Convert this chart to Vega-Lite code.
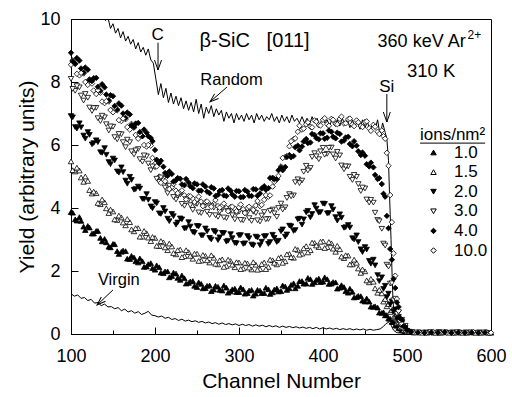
{
"$schema": "https://vega.github.io/schema/vega-lite/v6.json",
"width": 420, "height": 315,
"autosize": {"type": "none"},
"padding": {"left": 71, "top": 19, "right": 21, "bottom": 63},
"background": "white",
"config": {"font": "Liberation Sans", "view": {"stroke": "black", "strokeWidth": 1}},
"datasets": {
"pts": [
{"s":"1.0","c":100,"y":3.87},{"s":"1.0","c":105,"y":3.64},{"s":"1.0","c":110,"y":3.71},{"s":"1.0","c":115,"y":3.41},{"s":"1.0","c":120,"y":3.43},{"s":"1.0","c":125,"y":3.19},{"s":"1.0","c":130,"y":3.27},{"s":"1.0","c":135,"y":3.05},{"s":"1.0","c":140,"y":3.02},{"s":"1.0","c":145,"y":2.77},{"s":"1.0","c":150,"y":2.86},{"s":"1.0","c":155,"y":2.63},{"s":"1.0","c":160,"y":2.61},{"s":"1.0","c":165,"y":2.63},{"s":"1.0","c":170,"y":2.38},{"s":"1.0","c":175,"y":2.43},{"s":"1.0","c":180,"y":2.27},{"s":"1.0","c":185,"y":2.31},{"s":"1.0","c":190,"y":2.14},{"s":"1.0","c":195,"y":2.25},{"s":"1.0","c":200,"y":2.04},{"s":"1.0","c":205,"y":2.12},{"s":"1.0","c":210,"y":1.93},{"s":"1.0","c":215,"y":1.99},{"s":"1.0","c":220,"y":1.84},{"s":"1.0","c":225,"y":1.92},{"s":"1.0","c":230,"y":1.72},{"s":"1.0","c":235,"y":1.77},{"s":"1.0","c":240,"y":1.62},{"s":"1.0","c":245,"y":1.68},{"s":"1.0","c":250,"y":1.49},{"s":"1.0","c":255,"y":1.59},{"s":"1.0","c":260,"y":1.46},{"s":"1.0","c":265,"y":1.54},{"s":"1.0","c":270,"y":1.41},{"s":"1.0","c":275,"y":1.50},{"s":"1.0","c":280,"y":1.38},{"s":"1.0","c":285,"y":1.47},{"s":"1.0","c":290,"y":1.35},{"s":"1.0","c":295,"y":1.44},{"s":"1.0","c":300,"y":1.33},{"s":"1.0","c":305,"y":1.42},{"s":"1.0","c":310,"y":1.30},{"s":"1.0","c":315,"y":1.40},{"s":"1.0","c":320,"y":1.28},{"s":"1.0","c":325,"y":1.38},{"s":"1.0","c":330,"y":1.30},{"s":"1.0","c":335,"y":1.42},{"s":"1.0","c":340,"y":1.32},{"s":"1.0","c":345,"y":1.45},{"s":"1.0","c":350,"y":1.36},{"s":"1.0","c":355,"y":1.51},{"s":"1.0","c":360,"y":1.45},{"s":"1.0","c":365,"y":1.61},{"s":"1.0","c":370,"y":1.53},{"s":"1.0","c":375,"y":1.68},{"s":"1.0","c":380,"y":1.60},{"s":"1.0","c":385,"y":1.74},{"s":"1.0","c":390,"y":1.64},{"s":"1.0","c":395,"y":1.76},{"s":"1.0","c":400,"y":1.66},{"s":"1.0","c":405,"y":1.74},{"s":"1.0","c":410,"y":1.60},{"s":"1.0","c":415,"y":1.64},{"s":"1.0","c":420,"y":1.47},{"s":"1.0","c":425,"y":1.49},{"s":"1.0","c":430,"y":1.31},{"s":"1.0","c":435,"y":1.34},{"s":"1.0","c":440,"y":1.17},{"s":"1.0","c":445,"y":1.20},{"s":"1.0","c":450,"y":1.03},{"s":"1.0","c":455,"y":1.03},{"s":"1.0","c":460,"y":0.86},{"s":"1.0","c":465,"y":0.84},{"s":"1.0","c":470,"y":0.67},{"s":"1.0","c":472,"y":0.69},{"s":"1.0","c":474,"y":0.59},{"s":"1.0","c":476,"y":0.60},{"s":"1.0","c":478,"y":0.49},{"s":"1.0","c":480,"y":0.48},{"s":"1.0","c":482,"y":0.38},{"s":"1.0","c":484,"y":0.38},{"s":"1.0","c":486,"y":0.28},{"s":"1.0","c":488,"y":0.26},{"s":"1.0","c":490,"y":0.19},{"s":"1.0","c":492,"y":0.17},{"s":"1.0","c":494,"y":0.12},{"s":"1.0","c":496,"y":0.11},{"s":"1.0","c":498,"y":0.08},{"s":"1.0","c":500,"y":0.07},{"s":"1.0","c":508,"y":0.05},{"s":"1.0","c":516,"y":0.06},{"s":"1.0","c":524,"y":0.04},{"s":"1.0","c":532,"y":0.05},{"s":"1.0","c":540,"y":0.04},{"s":"1.0","c":548,"y":0.06},{"s":"1.0","c":556,"y":0.04},{"s":"1.0","c":564,"y":0.05},{"s":"1.0","c":572,"y":0.04},{"s":"1.0","c":580,"y":0.05},{"s":"1.0","c":588,"y":0.04},{"s":"1.0","c":596,"y":0.05},{"s":"1.0","c":600,"y":0.04},
{"s":"1.5","c":100,"y":5.48},{"s":"1.5","c":105,"y":5.16},{"s":"1.5","c":110,"y":5.19},{"s":"1.5","c":115,"y":4.83},{"s":"1.5","c":120,"y":4.86},{"s":"1.5","c":125,"y":4.46},{"s":"1.5","c":130,"y":4.47},{"s":"1.5","c":135,"y":4.12},{"s":"1.5","c":140,"y":4.18},{"s":"1.5","c":145,"y":3.84},{"s":"1.5","c":150,"y":3.89},{"s":"1.5","c":155,"y":3.62},{"s":"1.5","c":160,"y":3.70},{"s":"1.5","c":165,"y":3.45},{"s":"1.5","c":170,"y":3.55},{"s":"1.5","c":175,"y":3.26},{"s":"1.5","c":180,"y":3.36},{"s":"1.5","c":185,"y":3.09},{"s":"1.5","c":190,"y":3.20},{"s":"1.5","c":195,"y":2.95},{"s":"1.5","c":200,"y":3.05},{"s":"1.5","c":205,"y":2.79},{"s":"1.5","c":210,"y":2.91},{"s":"1.5","c":215,"y":2.66},{"s":"1.5","c":220,"y":2.78},{"s":"1.5","c":225,"y":2.53},{"s":"1.5","c":230,"y":2.68},{"s":"1.5","c":235,"y":2.47},{"s":"1.5","c":240,"y":2.60},{"s":"1.5","c":245,"y":2.39},{"s":"1.5","c":250,"y":2.55},{"s":"1.5","c":255,"y":2.33},{"s":"1.5","c":260,"y":2.48},{"s":"1.5","c":265,"y":2.27},{"s":"1.5","c":270,"y":2.42},{"s":"1.5","c":275,"y":2.21},{"s":"1.5","c":280,"y":2.37},{"s":"1.5","c":285,"y":2.16},{"s":"1.5","c":290,"y":2.32},{"s":"1.5","c":295,"y":2.12},{"s":"1.5","c":300,"y":2.27},{"s":"1.5","c":305,"y":2.08},{"s":"1.5","c":310,"y":2.24},{"s":"1.5","c":315,"y":2.05},{"s":"1.5","c":320,"y":2.20},{"s":"1.5","c":325,"y":2.06},{"s":"1.5","c":330,"y":2.27},{"s":"1.5","c":335,"y":2.13},{"s":"1.5","c":340,"y":2.34},{"s":"1.5","c":345,"y":2.21},{"s":"1.5","c":350,"y":2.44},{"s":"1.5","c":355,"y":2.31},{"s":"1.5","c":360,"y":2.54},{"s":"1.5","c":365,"y":2.42},{"s":"1.5","c":370,"y":2.67},{"s":"1.5","c":375,"y":2.55},{"s":"1.5","c":380,"y":2.79},{"s":"1.5","c":385,"y":2.66},{"s":"1.5","c":390,"y":2.89},{"s":"1.5","c":395,"y":2.76},{"s":"1.5","c":400,"y":2.94},{"s":"1.5","c":405,"y":2.76},{"s":"1.5","c":410,"y":2.88},{"s":"1.5","c":415,"y":2.61},{"s":"1.5","c":420,"y":2.69},{"s":"1.5","c":425,"y":2.41},{"s":"1.5","c":430,"y":2.49},{"s":"1.5","c":435,"y":2.21},{"s":"1.5","c":440,"y":2.26},{"s":"1.5","c":445,"y":1.94},{"s":"1.5","c":450,"y":1.99},{"s":"1.5","c":455,"y":1.64},{"s":"1.5","c":460,"y":1.66},{"s":"1.5","c":465,"y":1.31},{"s":"1.5","c":470,"y":1.29},{"s":"1.5","c":472,"y":1.03},{"s":"1.5","c":474,"y":1.11},{"s":"1.5","c":476,"y":0.88},{"s":"1.5","c":478,"y":0.95},{"s":"1.5","c":480,"y":0.70},{"s":"1.5","c":482,"y":0.76},{"s":"1.5","c":484,"y":0.53},{"s":"1.5","c":486,"y":0.56},{"s":"1.5","c":488,"y":0.35},{"s":"1.5","c":490,"y":0.38},{"s":"1.5","c":492,"y":0.22},{"s":"1.5","c":494,"y":0.23},{"s":"1.5","c":496,"y":0.13},{"s":"1.5","c":498,"y":0.12},{"s":"1.5","c":500,"y":0.08},{"s":"1.5","c":510,"y":0.05},{"s":"1.5","c":518,"y":0.04},{"s":"1.5","c":526,"y":0.06},{"s":"1.5","c":534,"y":0.04},{"s":"1.5","c":542,"y":0.05},{"s":"1.5","c":550,"y":0.04},{"s":"1.5","c":558,"y":0.05},{"s":"1.5","c":566,"y":0.04},{"s":"1.5","c":574,"y":0.06},{"s":"1.5","c":582,"y":0.04},{"s":"1.5","c":590,"y":0.05},{"s":"1.5","c":598,"y":0.04},
{"s":"2.0","c":100,"y":6.92},{"s":"2.0","c":105,"y":6.57},{"s":"2.0","c":110,"y":6.69},{"s":"2.0","c":115,"y":6.30},{"s":"2.0","c":120,"y":6.41},{"s":"2.0","c":125,"y":6.02},{"s":"2.0","c":130,"y":6.15},{"s":"2.0","c":135,"y":5.77},{"s":"2.0","c":140,"y":5.90},{"s":"2.0","c":145,"y":5.46},{"s":"2.0","c":150,"y":5.57},{"s":"2.0","c":155,"y":5.16},{"s":"2.0","c":160,"y":5.29},{"s":"2.0","c":165,"y":4.87},{"s":"2.0","c":170,"y":4.99},{"s":"2.0","c":175,"y":4.58},{"s":"2.0","c":180,"y":4.68},{"s":"2.0","c":185,"y":4.29},{"s":"2.0","c":190,"y":4.44},{"s":"2.0","c":195,"y":4.05},{"s":"2.0","c":200,"y":4.19},{"s":"2.0","c":205,"y":3.83},{"s":"2.0","c":210,"y":4.00},{"s":"2.0","c":215,"y":3.66},{"s":"2.0","c":220,"y":3.81},{"s":"2.0","c":225,"y":3.47},{"s":"2.0","c":230,"y":3.67},{"s":"2.0","c":235,"y":3.35},{"s":"2.0","c":240,"y":3.55},{"s":"2.0","c":245,"y":3.24},{"s":"2.0","c":250,"y":3.43},{"s":"2.0","c":255,"y":3.13},{"s":"2.0","c":260,"y":3.35},{"s":"2.0","c":265,"y":3.05},{"s":"2.0","c":270,"y":3.27},{"s":"2.0","c":275,"y":2.98},{"s":"2.0","c":280,"y":3.21},{"s":"2.0","c":285,"y":2.93},{"s":"2.0","c":290,"y":3.17},{"s":"2.0","c":295,"y":2.89},{"s":"2.0","c":300,"y":3.13},{"s":"2.0","c":305,"y":2.86},{"s":"2.0","c":310,"y":3.11},{"s":"2.0","c":315,"y":2.84},{"s":"2.0","c":320,"y":3.09},{"s":"2.0","c":325,"y":2.82},{"s":"2.0","c":330,"y":3.10},{"s":"2.0","c":335,"y":2.86},{"s":"2.0","c":340,"y":3.15},{"s":"2.0","c":345,"y":2.92},{"s":"2.0","c":350,"y":3.26},{"s":"2.0","c":355,"y":3.09},{"s":"2.0","c":360,"y":3.44},{"s":"2.0","c":365,"y":3.27},{"s":"2.0","c":370,"y":3.64},{"s":"2.0","c":375,"y":3.47},{"s":"2.0","c":380,"y":3.86},{"s":"2.0","c":385,"y":3.70},{"s":"2.0","c":390,"y":4.09},{"s":"2.0","c":395,"y":3.85},{"s":"2.0","c":400,"y":4.14},{"s":"2.0","c":405,"y":3.83},{"s":"2.0","c":410,"y":4.06},{"s":"2.0","c":415,"y":3.71},{"s":"2.0","c":420,"y":3.80},{"s":"2.0","c":425,"y":3.37},{"s":"2.0","c":430,"y":3.46},{"s":"2.0","c":435,"y":3.04},{"s":"2.0","c":440,"y":3.13},{"s":"2.0","c":445,"y":2.69},{"s":"2.0","c":450,"y":2.76},{"s":"2.0","c":455,"y":2.32},{"s":"2.0","c":460,"y":2.36},{"s":"2.0","c":465,"y":1.87},{"s":"2.0","c":470,"y":1.80},{"s":"2.0","c":472,"y":1.43},{"s":"2.0","c":474,"y":1.53},{"s":"2.0","c":476,"y":1.17},{"s":"2.0","c":478,"y":1.28},{"s":"2.0","c":480,"y":0.94},{"s":"2.0","c":482,"y":1.03},{"s":"2.0","c":484,"y":0.71},{"s":"2.0","c":486,"y":0.78},{"s":"2.0","c":488,"y":0.49},{"s":"2.0","c":490,"y":0.54},{"s":"2.0","c":492,"y":0.31},{"s":"2.0","c":494,"y":0.35},{"s":"2.0","c":496,"y":0.17},{"s":"2.0","c":498,"y":0.19},{"s":"2.0","c":500,"y":0.10},{"s":"2.0","c":506,"y":0.06},{"s":"2.0","c":514,"y":0.04},{"s":"2.0","c":522,"y":0.05},{"s":"2.0","c":530,"y":0.04},{"s":"2.0","c":538,"y":0.06},{"s":"2.0","c":546,"y":0.04},{"s":"2.0","c":554,"y":0.05},{"s":"2.0","c":562,"y":0.04},{"s":"2.0","c":570,"y":0.05},{"s":"2.0","c":578,"y":0.04},{"s":"2.0","c":586,"y":0.05},{"s":"2.0","c":594,"y":0.04},
{"s":"3.0","c":100,"y":8.10},{"s":"3.0","c":105,"y":7.72},{"s":"3.0","c":110,"y":7.83},{"s":"3.0","c":115,"y":7.41},{"s":"3.0","c":120,"y":7.50},{"s":"3.0","c":125,"y":7.08},{"s":"3.0","c":130,"y":7.18},{"s":"3.0","c":135,"y":6.76},{"s":"3.0","c":140,"y":6.88},{"s":"3.0","c":145,"y":6.46},{"s":"3.0","c":150,"y":6.58},{"s":"3.0","c":155,"y":6.18},{"s":"3.0","c":160,"y":6.34},{"s":"3.0","c":165,"y":5.93},{"s":"3.0","c":170,"y":6.09},{"s":"3.0","c":175,"y":5.70},{"s":"3.0","c":180,"y":5.87},{"s":"3.0","c":185,"y":5.47},{"s":"3.0","c":190,"y":5.64},{"s":"3.0","c":195,"y":5.20},{"s":"3.0","c":200,"y":5.29},{"s":"3.0","c":205,"y":4.83},{"s":"3.0","c":210,"y":4.92},{"s":"3.0","c":215,"y":4.47},{"s":"3.0","c":220,"y":4.63},{"s":"3.0","c":225,"y":4.27},{"s":"3.0","c":230,"y":4.43},{"s":"3.0","c":235,"y":4.07},{"s":"3.0","c":240,"y":4.26},{"s":"3.0","c":245,"y":3.94},{"s":"3.0","c":250,"y":4.13},{"s":"3.0","c":255,"y":3.84},{"s":"3.0","c":260,"y":4.07},{"s":"3.0","c":265,"y":3.78},{"s":"3.0","c":270,"y":4.01},{"s":"3.0","c":275,"y":3.72},{"s":"3.0","c":280,"y":3.96},{"s":"3.0","c":285,"y":3.68},{"s":"3.0","c":290,"y":3.92},{"s":"3.0","c":295,"y":3.64},{"s":"3.0","c":300,"y":3.88},{"s":"3.0","c":305,"y":3.61},{"s":"3.0","c":310,"y":3.86},{"s":"3.0","c":315,"y":3.59},{"s":"3.0","c":320,"y":3.84},{"s":"3.0","c":325,"y":3.57},{"s":"3.0","c":330,"y":3.87},{"s":"3.0","c":335,"y":3.65},{"s":"3.0","c":340,"y":3.95},{"s":"3.0","c":345,"y":3.72},{"s":"3.0","c":350,"y":4.14},{"s":"3.0","c":355,"y":4.02},{"s":"3.0","c":360,"y":4.44},{"s":"3.0","c":365,"y":4.40},{"s":"3.0","c":370,"y":4.91},{"s":"3.0","c":375,"y":4.87},{"s":"3.0","c":380,"y":5.34},{"s":"3.0","c":385,"y":5.27},{"s":"3.0","c":390,"y":5.74},{"s":"3.0","c":395,"y":5.55},{"s":"3.0","c":400,"y":5.91},{"s":"3.0","c":405,"y":5.72},{"s":"3.0","c":410,"y":5.92},{"s":"3.0","c":415,"y":5.57},{"s":"3.0","c":420,"y":5.67},{"s":"3.0","c":425,"y":5.23},{"s":"3.0","c":430,"y":5.32},{"s":"3.0","c":435,"y":4.89},{"s":"3.0","c":440,"y":4.99},{"s":"3.0","c":445,"y":4.54},{"s":"3.0","c":450,"y":4.62},{"s":"3.0","c":455,"y":4.17},{"s":"3.0","c":460,"y":4.17},{"s":"3.0","c":465,"y":3.62},{"s":"3.0","c":470,"y":3.34},{"s":"3.0","c":472,"y":2.87},{"s":"3.0","c":474,"y":2.81},{"s":"3.0","c":476,"y":2.20},{"s":"3.0","c":478,"y":2.14},{"s":"3.0","c":480,"y":1.60},{"s":"3.0","c":482,"y":1.61},{"s":"3.0","c":484,"y":1.07},{"s":"3.0","c":486,"y":1.12},{"s":"3.0","c":488,"y":0.64},{"s":"3.0","c":490,"y":0.69},{"s":"3.0","c":492,"y":0.30},{"s":"3.0","c":494,"y":0.45},{"s":"3.0","c":496,"y":0.16},{"s":"3.0","c":498,"y":0.26},{"s":"3.0","c":500,"y":0.10},{"s":"3.0","c":504,"y":0.06},{"s":"3.0","c":512,"y":0.05},{"s":"3.0","c":520,"y":0.04},{"s":"3.0","c":528,"y":0.06},{"s":"3.0","c":536,"y":0.04},{"s":"3.0","c":544,"y":0.05},{"s":"3.0","c":552,"y":0.04},{"s":"3.0","c":560,"y":0.06},{"s":"3.0","c":568,"y":0.04},{"s":"3.0","c":576,"y":0.05},{"s":"3.0","c":584,"y":0.04},{"s":"3.0","c":592,"y":0.05},
{"s":"10.0","c":100,"y":8.55},{"s":"10.0","c":105,"y":8.58},{"s":"10.0","c":110,"y":8.21},{"s":"10.0","c":115,"y":8.27},{"s":"10.0","c":120,"y":7.91},{"s":"10.0","c":125,"y":7.95},{"s":"10.0","c":130,"y":7.62},{"s":"10.0","c":135,"y":7.66},{"s":"10.0","c":140,"y":7.33},{"s":"10.0","c":145,"y":7.38},{"s":"10.0","c":150,"y":7.04},{"s":"10.0","c":155,"y":7.10},{"s":"10.0","c":160,"y":6.76},{"s":"10.0","c":165,"y":6.82},{"s":"10.0","c":170,"y":6.49},{"s":"10.0","c":175,"y":6.55},{"s":"10.0","c":180,"y":6.20},{"s":"10.0","c":185,"y":6.28},{"s":"10.0","c":190,"y":5.95},{"s":"10.0","c":195,"y":5.98},{"s":"10.0","c":200,"y":5.40},{"s":"10.0","c":205,"y":5.00},{"s":"10.0","c":210,"y":4.88},{"s":"10.0","c":215,"y":4.72},{"s":"10.0","c":220,"y":4.66},{"s":"10.0","c":225,"y":4.55},{"s":"10.0","c":230,"y":4.51},{"s":"10.0","c":235,"y":4.40},{"s":"10.0","c":240,"y":4.38},{"s":"10.0","c":245,"y":4.30},{"s":"10.0","c":250,"y":4.28},{"s":"10.0","c":255,"y":4.20},{"s":"10.0","c":260,"y":4.19},{"s":"10.0","c":265,"y":4.12},{"s":"10.0","c":270,"y":4.13},{"s":"10.0","c":275,"y":4.06},{"s":"10.0","c":280,"y":4.07},{"s":"10.0","c":285,"y":4.00},{"s":"10.0","c":290,"y":4.03},{"s":"10.0","c":295,"y":3.98},{"s":"10.0","c":300,"y":4.02},{"s":"10.0","c":305,"y":3.96},{"s":"10.0","c":310,"y":4.00},{"s":"10.0","c":315,"y":3.98},{"s":"10.0","c":320,"y":4.08},{"s":"10.0","c":325,"y":4.06},{"s":"10.0","c":330,"y":4.26},{"s":"10.0","c":335,"y":4.36},{"s":"10.0","c":340,"y":4.68},{"s":"10.0","c":345,"y":4.91},{"s":"10.0","c":350,"y":5.32},{"s":"10.0","c":355,"y":5.62},{"s":"10.0","c":360,"y":5.96},{"s":"10.0","c":365,"y":6.18},{"s":"10.0","c":370,"y":6.42},{"s":"10.0","c":375,"y":6.49},{"s":"10.0","c":380,"y":6.66},{"s":"10.0","c":385,"y":6.58},{"s":"10.0","c":390,"y":6.78},{"s":"10.0","c":395,"y":6.63},{"s":"10.0","c":400,"y":6.80},{"s":"10.0","c":405,"y":6.66},{"s":"10.0","c":410,"y":6.83},{"s":"10.0","c":415,"y":6.67},{"s":"10.0","c":420,"y":6.83},{"s":"10.0","c":425,"y":6.68},{"s":"10.0","c":430,"y":6.82},{"s":"10.0","c":435,"y":6.65},{"s":"10.0","c":440,"y":6.78},{"s":"10.0","c":445,"y":6.60},{"s":"10.0","c":450,"y":6.73},{"s":"10.0","c":455,"y":6.53},{"s":"10.0","c":460,"y":6.64},{"s":"10.0","c":465,"y":6.42},{"s":"10.0","c":470,"y":6.46},{"s":"10.0","c":472,"y":6.28},{"s":"10.0","c":474,"y":6.20},{"s":"10.0","c":476,"y":5.75},{"s":"10.0","c":478,"y":5.34},{"s":"10.0","c":480,"y":4.41},{"s":"10.0","c":482,"y":3.55},{"s":"10.0","c":484,"y":2.56},{"s":"10.0","c":486,"y":1.85},{"s":"10.0","c":488,"y":1.11},{"s":"10.0","c":490,"y":0.74},{"s":"10.0","c":492,"y":0.42},{"s":"10.0","c":494,"y":0.33},{"s":"10.0","c":496,"y":0.18},{"s":"10.0","c":498,"y":0.16},{"s":"10.0","c":500,"y":0.11},{"s":"10.0","c":507,"y":0.06},{"s":"10.0","c":515,"y":0.05},{"s":"10.0","c":523,"y":0.04},{"s":"10.0","c":531,"y":0.06},{"s":"10.0","c":539,"y":0.04},{"s":"10.0","c":547,"y":0.05},{"s":"10.0","c":555,"y":0.04},{"s":"10.0","c":563,"y":0.05},{"s":"10.0","c":571,"y":0.04},{"s":"10.0","c":579,"y":0.06},{"s":"10.0","c":587,"y":0.04},{"s":"10.0","c":595,"y":0.05},{"s":"10.0","c":600,"y":0.04},
{"s":"4.0","c":100,"y":8.93},{"s":"4.0","c":105,"y":8.58},{"s":"4.0","c":110,"y":8.68},{"s":"4.0","c":115,"y":8.30},{"s":"4.0","c":120,"y":8.39},{"s":"4.0","c":125,"y":8.03},{"s":"4.0","c":130,"y":8.13},{"s":"4.0","c":135,"y":7.72},{"s":"4.0","c":140,"y":7.83},{"s":"4.0","c":145,"y":7.42},{"s":"4.0","c":150,"y":7.55},{"s":"4.0","c":155,"y":7.13},{"s":"4.0","c":160,"y":7.25},{"s":"4.0","c":165,"y":6.86},{"s":"4.0","c":170,"y":6.97},{"s":"4.0","c":175,"y":6.57},{"s":"4.0","c":180,"y":6.70},{"s":"4.0","c":185,"y":6.28},{"s":"4.0","c":190,"y":6.39},{"s":"4.0","c":195,"y":6.22},{"s":"4.0","c":200,"y":5.84},{"s":"4.0","c":205,"y":5.42},{"s":"4.0","c":210,"y":5.31},{"s":"4.0","c":215,"y":5.02},{"s":"4.0","c":220,"y":5.08},{"s":"4.0","c":225,"y":4.88},{"s":"4.0","c":230,"y":4.93},{"s":"4.0","c":235,"y":4.72},{"s":"4.0","c":240,"y":4.81},{"s":"4.0","c":245,"y":4.63},{"s":"4.0","c":250,"y":4.75},{"s":"4.0","c":255,"y":4.55},{"s":"4.0","c":260,"y":4.68},{"s":"4.0","c":265,"y":4.47},{"s":"4.0","c":270,"y":4.62},{"s":"4.0","c":275,"y":4.42},{"s":"4.0","c":280,"y":4.57},{"s":"4.0","c":285,"y":4.38},{"s":"4.0","c":290,"y":4.55},{"s":"4.0","c":295,"y":4.36},{"s":"4.0","c":300,"y":4.53},{"s":"4.0","c":305,"y":4.35},{"s":"4.0","c":310,"y":4.52},{"s":"4.0","c":315,"y":4.38},{"s":"4.0","c":320,"y":4.59},{"s":"4.0","c":325,"y":4.46},{"s":"4.0","c":330,"y":4.69},{"s":"4.0","c":335,"y":4.63},{"s":"4.0","c":340,"y":4.96},{"s":"4.0","c":345,"y":4.92},{"s":"4.0","c":350,"y":5.29},{"s":"4.0","c":355,"y":5.30},{"s":"4.0","c":360,"y":5.68},{"s":"4.0","c":365,"y":5.65},{"s":"4.0","c":370,"y":5.98},{"s":"4.0","c":375,"y":5.95},{"s":"4.0","c":380,"y":6.19},{"s":"4.0","c":385,"y":6.08},{"s":"4.0","c":390,"y":6.32},{"s":"4.0","c":395,"y":6.18},{"s":"4.0","c":400,"y":6.37},{"s":"4.0","c":405,"y":6.23},{"s":"4.0","c":410,"y":6.42},{"s":"4.0","c":415,"y":6.21},{"s":"4.0","c":420,"y":6.35},{"s":"4.0","c":425,"y":6.14},{"s":"4.0","c":430,"y":6.26},{"s":"4.0","c":435,"y":5.96},{"s":"4.0","c":440,"y":5.98},{"s":"4.0","c":445,"y":5.68},{"s":"4.0","c":450,"y":5.66},{"s":"4.0","c":455,"y":5.32},{"s":"4.0","c":460,"y":5.29},{"s":"4.0","c":465,"y":4.92},{"s":"4.0","c":470,"y":4.76},{"s":"4.0","c":472,"y":4.45},{"s":"4.0","c":474,"y":4.36},{"s":"4.0","c":476,"y":3.75},{"s":"4.0","c":478,"y":3.36},{"s":"4.0","c":480,"y":2.70},{"s":"4.0","c":482,"y":2.36},{"s":"4.0","c":484,"y":1.75},{"s":"4.0","c":486,"y":1.46},{"s":"4.0","c":488,"y":1.00},{"s":"4.0","c":490,"y":0.86},{"s":"4.0","c":492,"y":0.50},{"s":"4.0","c":494,"y":0.45},{"s":"4.0","c":496,"y":0.25},{"s":"4.0","c":498,"y":0.22},{"s":"4.0","c":500,"y":0.13},{"s":"4.0","c":505,"y":0.07},{"s":"4.0","c":513,"y":0.05},{"s":"4.0","c":521,"y":0.04},{"s":"4.0","c":529,"y":0.05},{"s":"4.0","c":537,"y":0.04},{"s":"4.0","c":545,"y":0.06},{"s":"4.0","c":553,"y":0.04},{"s":"4.0","c":561,"y":0.05},{"s":"4.0","c":569,"y":0.04},{"s":"4.0","c":577,"y":0.05},{"s":"4.0","c":585,"y":0.04},{"s":"4.0","c":593,"y":0.05},
{"s":"1.0","c":102,"y":3.85},{"s":"1.0","c":107,"y":3.60},{"s":"1.0","c":112,"y":3.59},{"s":"1.0","c":117,"y":3.30},{"s":"1.0","c":122,"y":3.38},{"s":"1.0","c":127,"y":3.19},{"s":"1.0","c":132,"y":3.27},{"s":"1.0","c":137,"y":2.94},{"s":"1.0","c":142,"y":2.91},{"s":"1.0","c":147,"y":2.75},{"s":"1.0","c":152,"y":2.85},{"s":"1.0","c":157,"y":2.54},{"s":"1.0","c":162,"y":2.65},{"s":"1.0","c":167,"y":2.39},{"s":"1.0","c":172,"y":2.48},{"s":"1.0","c":177,"y":2.31},{"s":"1.0","c":182,"y":2.40},{"s":"1.0","c":187,"y":2.13},{"s":"1.0","c":192,"y":2.22},{"s":"1.0","c":197,"y":2.09},{"s":"1.0","c":202,"y":2.18},{"s":"1.0","c":207,"y":1.95},{"s":"1.0","c":212,"y":1.99},{"s":"1.0","c":217,"y":1.80},{"s":"1.0","c":222,"y":1.95},{"s":"1.0","c":227,"y":1.78},{"s":"1.0","c":232,"y":1.86},{"s":"1.0","c":237,"y":1.60},{"s":"1.0","c":242,"y":1.67},{"s":"1.0","c":247,"y":1.53},{"s":"1.0","c":252,"y":1.64},{"s":"1.0","c":257,"y":1.45},{"s":"1.0","c":262,"y":1.53},{"s":"1.0","c":267,"y":1.36},{"s":"1.0","c":272,"y":1.53},{"s":"1.0","c":277,"y":1.40},{"s":"1.0","c":282,"y":1.54},{"s":"1.0","c":287,"y":1.31},{"s":"1.0","c":292,"y":1.42},{"s":"1.0","c":297,"y":1.33},{"s":"1.0","c":302,"y":1.48},{"s":"1.0","c":307,"y":1.28},{"s":"1.0","c":312,"y":1.38},{"s":"1.0","c":317,"y":1.22},{"s":"1.0","c":322,"y":1.40},{"s":"1.0","c":327,"y":1.30},{"s":"1.0","c":332,"y":1.47},{"s":"1.0","c":337,"y":1.27},{"s":"1.0","c":342,"y":1.41},{"s":"1.0","c":347,"y":1.35},{"s":"1.0","c":352,"y":1.54},{"s":"1.0","c":357,"y":1.40},{"s":"1.0","c":362,"y":1.56},{"s":"1.0","c":367,"y":1.45},{"s":"1.0","c":372,"y":1.68},{"s":"1.0","c":377,"y":1.60},{"s":"1.0","c":382,"y":1.78},{"s":"1.0","c":387,"y":1.59},{"s":"1.0","c":392,"y":1.72},{"s":"1.0","c":397,"y":1.65},{"s":"1.0","c":402,"y":1.80},{"s":"1.0","c":407,"y":1.59},{"s":"1.0","c":412,"y":1.65},{"s":"1.0","c":417,"y":1.44},{"s":"1.0","c":422,"y":1.55},{"s":"1.0","c":427,"y":1.36},{"s":"1.0","c":432,"y":1.44},{"s":"1.0","c":437,"y":1.16},{"s":"1.0","c":442,"y":1.21},{"s":"1.0","c":447,"y":1.06},{"s":"1.0","c":452,"y":1.13},{"s":"1.0","c":457,"y":0.87},{"s":"1.0","c":462,"y":0.88},{"s":"1.0","c":467,"y":0.68},
{"s":"1.5","c":102,"y":5.20},{"s":"1.5","c":107,"y":5.28},{"s":"1.5","c":112,"y":4.97},{"s":"1.5","c":117,"y":5.00},{"s":"1.5","c":122,"y":4.57},{"s":"1.5","c":127,"y":4.52},{"s":"1.5","c":132,"y":4.16},{"s":"1.5","c":137,"y":4.27},{"s":"1.5","c":142,"y":3.99},{"s":"1.5","c":147,"y":3.95},{"s":"1.5","c":152,"y":3.64},{"s":"1.5","c":157,"y":3.76},{"s":"1.5","c":162,"y":3.54},{"s":"1.5","c":167,"y":3.65},{"s":"1.5","c":172,"y":3.32},{"s":"1.5","c":177,"y":3.36},{"s":"1.5","c":182,"y":3.09},{"s":"1.5","c":187,"y":3.27},{"s":"1.5","c":192,"y":3.06},{"s":"1.5","c":197,"y":3.08},{"s":"1.5","c":202,"y":2.80},{"s":"1.5","c":207,"y":2.95},{"s":"1.5","c":212,"y":2.75},{"s":"1.5","c":217,"y":2.87},{"s":"1.5","c":222,"y":2.57},{"s":"1.5","c":227,"y":2.66},{"s":"1.5","c":232,"y":2.44},{"s":"1.5","c":237,"y":2.66},{"s":"1.5","c":242,"y":2.48},{"s":"1.5","c":247,"y":2.55},{"s":"1.5","c":252,"y":2.32},{"s":"1.5","c":257,"y":2.51},{"s":"1.5","c":262,"y":2.34},{"s":"1.5","c":267,"y":2.50},{"s":"1.5","c":272,"y":2.23},{"s":"1.5","c":277,"y":2.34},{"s":"1.5","c":282,"y":2.13},{"s":"1.5","c":287,"y":2.36},{"s":"1.5","c":292,"y":2.20},{"s":"1.5","c":297,"y":2.28},{"s":"1.5","c":302,"y":2.06},{"s":"1.5","c":307,"y":2.26},{"s":"1.5","c":312,"y":2.11},{"s":"1.5","c":317,"y":2.28},{"s":"1.5","c":322,"y":2.04},{"s":"1.5","c":327,"y":2.22},{"s":"1.5","c":332,"y":2.06},{"s":"1.5","c":337,"y":2.36},{"s":"1.5","c":342,"y":2.26},{"s":"1.5","c":347,"y":2.41},{"s":"1.5","c":352,"y":2.26},{"s":"1.5","c":357,"y":2.53},{"s":"1.5","c":362,"y":2.44},{"s":"1.5","c":367,"y":2.70},{"s":"1.5","c":372,"y":2.52},{"s":"1.5","c":377,"y":2.72},{"s":"1.5","c":382,"y":2.59},{"s":"1.5","c":387,"y":2.90},{"s":"1.5","c":392,"y":2.81},{"s":"1.5","c":397,"y":2.93},{"s":"1.5","c":402,"y":2.73},{"s":"1.5","c":407,"y":2.92},{"s":"1.5","c":412,"y":2.71},{"s":"1.5","c":417,"y":2.80},{"s":"1.5","c":422,"y":2.46},{"s":"1.5","c":427,"y":2.50},{"s":"1.5","c":432,"y":2.21},{"s":"1.5","c":437,"y":2.36},{"s":"1.5","c":442,"y":2.08},{"s":"1.5","c":447,"y":2.05},{"s":"1.5","c":452,"y":1.70},{"s":"1.5","c":457,"y":1.75},{"s":"1.5","c":462,"y":1.45},{"s":"1.5","c":467,"y":1.40},
{"s":"2.0","c":102,"y":6.88},{"s":"2.0","c":107,"y":6.52},{"s":"2.0","c":112,"y":6.56},{"s":"2.0","c":117,"y":6.20},{"s":"2.0","c":122,"y":6.32},{"s":"2.0","c":127,"y":6.06},{"s":"2.0","c":132,"y":6.09},{"s":"2.0","c":137,"y":5.75},{"s":"2.0","c":142,"y":5.69},{"s":"2.0","c":147,"y":5.39},{"s":"2.0","c":152,"y":5.51},{"s":"2.0","c":157,"y":5.12},{"s":"2.0","c":162,"y":5.14},{"s":"2.0","c":167,"y":4.77},{"s":"2.0","c":172,"y":4.89},{"s":"2.0","c":177,"y":4.60},{"s":"2.0","c":182,"y":4.62},{"s":"2.0","c":187,"y":4.28},{"s":"2.0","c":192,"y":4.26},{"s":"2.0","c":197,"y":3.99},{"s":"2.0","c":202,"y":4.15},{"s":"2.0","c":207,"y":3.81},{"s":"2.0","c":212,"y":3.89},{"s":"2.0","c":217,"y":3.58},{"s":"2.0","c":222,"y":3.74},{"s":"2.0","c":227,"y":3.54},{"s":"2.0","c":232,"y":3.64},{"s":"2.0","c":237,"y":3.36},{"s":"2.0","c":242,"y":3.41},{"s":"2.0","c":247,"y":3.21},{"s":"2.0","c":252,"y":3.42},{"s":"2.0","c":257,"y":3.13},{"s":"2.0","c":262,"y":3.26},{"s":"2.0","c":267,"y":3.00},{"s":"2.0","c":272,"y":3.23},{"s":"2.0","c":277,"y":3.07},{"s":"2.0","c":282,"y":3.20},{"s":"2.0","c":287,"y":2.96},{"s":"2.0","c":292,"y":3.04},{"s":"2.0","c":297,"y":2.88},{"s":"2.0","c":302,"y":3.14},{"s":"2.0","c":307,"y":2.88},{"s":"2.0","c":312,"y":3.04},{"s":"2.0","c":317,"y":2.81},{"s":"2.0","c":322,"y":3.06},{"s":"2.0","c":327,"y":2.93},{"s":"2.0","c":332,"y":3.11},{"s":"2.0","c":337,"y":2.92},{"s":"2.0","c":342,"y":3.05},{"s":"2.0","c":347,"y":2.96},{"s":"2.0","c":352,"y":3.32},{"s":"2.0","c":357,"y":3.16},{"s":"2.0","c":362,"y":3.42},{"s":"2.0","c":367,"y":3.30},{"s":"2.0","c":372,"y":3.66},{"s":"2.0","c":377,"y":3.64},{"s":"2.0","c":382,"y":3.91},{"s":"2.0","c":387,"y":3.81},{"s":"2.0","c":392,"y":3.98},{"s":"2.0","c":397,"y":3.87},{"s":"2.0","c":402,"y":4.13},{"s":"2.0","c":407,"y":3.84},{"s":"2.0","c":412,"y":3.95},{"s":"2.0","c":417,"y":3.60},{"s":"2.0","c":422,"y":3.69},{"s":"2.0","c":427,"y":3.39},{"s":"2.0","c":432,"y":3.38},{"s":"2.0","c":437,"y":3.00},{"s":"2.0","c":442,"y":2.92},{"s":"2.0","c":447,"y":2.60},{"s":"2.0","c":452,"y":2.68},{"s":"2.0","c":457,"y":2.23},{"s":"2.0","c":462,"y":2.18},{"s":"2.0","c":467,"y":1.68},
{"s":"3.0","c":102,"y":7.78},{"s":"3.0","c":107,"y":7.87},{"s":"3.0","c":112,"y":7.57},{"s":"3.0","c":117,"y":7.62},{"s":"3.0","c":122,"y":7.19},{"s":"3.0","c":127,"y":7.17},{"s":"3.0","c":132,"y":6.85},{"s":"3.0","c":137,"y":6.93},{"s":"3.0","c":142,"y":6.66},{"s":"3.0","c":147,"y":6.59},{"s":"3.0","c":152,"y":6.25},{"s":"3.0","c":157,"y":6.35},{"s":"3.0","c":162,"y":6.09},{"s":"3.0","c":167,"y":6.17},{"s":"3.0","c":172,"y":5.80},{"s":"3.0","c":177,"y":5.83},{"s":"3.0","c":182,"y":5.55},{"s":"3.0","c":187,"y":5.67},{"s":"3.0","c":192,"y":5.41},{"s":"3.0","c":197,"y":5.32},{"s":"3.0","c":202,"y":4.93},{"s":"3.0","c":207,"y":4.97},{"s":"3.0","c":212,"y":4.65},{"s":"3.0","c":217,"y":4.71},{"s":"3.0","c":222,"y":4.35},{"s":"3.0","c":227,"y":4.39},{"s":"3.0","c":232,"y":4.13},{"s":"3.0","c":237,"y":4.28},{"s":"3.0","c":242,"y":4.09},{"s":"3.0","c":247,"y":4.11},{"s":"3.0","c":252,"y":3.86},{"s":"3.0","c":257,"y":4.05},{"s":"3.0","c":262,"y":3.88},{"s":"3.0","c":267,"y":4.06},{"s":"3.0","c":272,"y":3.77},{"s":"3.0","c":277,"y":3.88},{"s":"3.0","c":282,"y":3.70},{"s":"3.0","c":287,"y":3.91},{"s":"3.0","c":292,"y":3.77},{"s":"3.0","c":297,"y":3.83},{"s":"3.0","c":302,"y":3.62},{"s":"3.0","c":307,"y":3.83},{"s":"3.0","c":312,"y":3.68},{"s":"3.0","c":317,"y":3.88},{"s":"3.0","c":322,"y":3.61},{"s":"3.0","c":327,"y":3.76},{"s":"3.0","c":332,"y":3.64},{"s":"3.0","c":337,"y":3.91},{"s":"3.0","c":342,"y":3.83},{"s":"3.0","c":347,"y":4.00},{"s":"3.0","c":352,"y":3.95},{"s":"3.0","c":357,"y":4.32},{"s":"3.0","c":362,"y":4.37},{"s":"3.0","c":367,"y":4.82},{"s":"3.0","c":372,"y":4.79},{"s":"3.0","c":377,"y":5.15},{"s":"3.0","c":382,"y":5.19},{"s":"3.0","c":387,"y":5.62},{"s":"3.0","c":392,"y":5.64},{"s":"3.0","c":397,"y":5.80},{"s":"3.0","c":402,"y":5.69},{"s":"3.0","c":407,"y":5.91},{"s":"3.0","c":412,"y":5.70},{"s":"3.0","c":417,"y":5.78},{"s":"3.0","c":422,"y":5.35},{"s":"3.0","c":427,"y":5.32},{"s":"3.0","c":432,"y":4.99},{"s":"3.0","c":437,"y":5.05},{"s":"3.0","c":442,"y":4.76},{"s":"3.0","c":447,"y":4.65},{"s":"3.0","c":452,"y":4.27},{"s":"3.0","c":457,"y":4.26},{"s":"3.0","c":462,"y":3.85},{"s":"3.0","c":467,"y":3.58},
{"s":"10.0","c":102,"y":8.69},{"s":"10.0","c":107,"y":8.26},{"s":"10.0","c":112,"y":8.29},{"s":"10.0","c":117,"y":8.00},{"s":"10.0","c":122,"y":8.08},{"s":"10.0","c":127,"y":7.73},{"s":"10.0","c":132,"y":7.74},{"s":"10.0","c":137,"y":7.38},{"s":"10.0","c":142,"y":7.39},{"s":"10.0","c":147,"y":7.11},{"s":"10.0","c":152,"y":7.19},{"s":"10.0","c":157,"y":6.79},{"s":"10.0","c":162,"y":6.84},{"s":"10.0","c":167,"y":6.57},{"s":"10.0","c":172,"y":6.67},{"s":"10.0","c":177,"y":6.32},{"s":"10.0","c":182,"y":6.34},{"s":"10.0","c":187,"y":6.00},{"s":"10.0","c":192,"y":6.00},{"s":"10.0","c":197,"y":5.59},{"s":"10.0","c":202,"y":5.32},{"s":"10.0","c":207,"y":4.80},{"s":"10.0","c":212,"y":4.85},{"s":"10.0","c":217,"y":4.60},{"s":"10.0","c":222,"y":4.76},{"s":"10.0","c":227,"y":4.47},{"s":"10.0","c":232,"y":4.56},{"s":"10.0","c":237,"y":4.27},{"s":"10.0","c":242,"y":4.37},{"s":"10.0","c":247,"y":4.19},{"s":"10.0","c":252,"y":4.36},{"s":"10.0","c":257,"y":4.06},{"s":"10.0","c":262,"y":4.21},{"s":"10.0","c":267,"y":4.04},{"s":"10.0","c":272,"y":4.25},{"s":"10.0","c":277,"y":4.01},{"s":"10.0","c":282,"y":4.14},{"s":"10.0","c":287,"y":3.90},{"s":"10.0","c":292,"y":4.04},{"s":"10.0","c":297,"y":3.90},{"s":"10.0","c":302,"y":4.11},{"s":"10.0","c":307,"y":3.84},{"s":"10.0","c":312,"y":4.04},{"s":"10.0","c":317,"y":3.94},{"s":"10.0","c":322,"y":4.22},{"s":"10.0","c":327,"y":4.10},{"s":"10.0","c":332,"y":4.41},{"s":"10.0","c":337,"y":4.40},{"s":"10.0","c":342,"y":4.83},{"s":"10.0","c":347,"y":5.02},{"s":"10.0","c":352,"y":5.59},{"s":"10.0","c":357,"y":5.65},{"s":"10.0","c":362,"y":6.12},{"s":"10.0","c":367,"y":6.21},{"s":"10.0","c":372,"y":6.61},{"s":"10.0","c":377,"y":6.52},{"s":"10.0","c":382,"y":6.72},{"s":"10.0","c":387,"y":6.56},{"s":"10.0","c":392,"y":6.74},{"s":"10.0","c":397,"y":6.62},{"s":"10.0","c":402,"y":6.85},{"s":"10.0","c":407,"y":6.61},{"s":"10.0","c":412,"y":6.80},{"s":"10.0","c":417,"y":6.66},{"s":"10.0","c":422,"y":6.90},{"s":"10.0","c":427,"y":6.69},{"s":"10.0","c":432,"y":6.84},{"s":"10.0","c":437,"y":6.60},{"s":"10.0","c":442,"y":6.72},{"s":"10.0","c":447,"y":6.57},{"s":"10.0","c":452,"y":6.75},{"s":"10.0","c":457,"y":6.45},{"s":"10.0","c":462,"y":6.58},{"s":"10.0","c":467,"y":6.35},
{"s":"4.0","c":102,"y":8.66},{"s":"4.0","c":107,"y":8.76},{"s":"4.0","c":112,"y":8.43},{"s":"4.0","c":117,"y":8.46},{"s":"4.0","c":122,"y":8.07},{"s":"4.0","c":127,"y":8.12},{"s":"4.0","c":132,"y":7.85},{"s":"4.0","c":137,"y":7.93},{"s":"4.0","c":142,"y":7.60},{"s":"4.0","c":147,"y":7.58},{"s":"4.0","c":152,"y":7.24},{"s":"4.0","c":157,"y":7.32},{"s":"4.0","c":162,"y":7.00},{"s":"4.0","c":167,"y":7.03},{"s":"4.0","c":172,"y":6.63},{"s":"4.0","c":177,"y":6.68},{"s":"4.0","c":182,"y":6.41},{"s":"4.0","c":187,"y":6.49},{"s":"4.0","c":192,"y":6.28},{"s":"4.0","c":197,"y":6.12},{"s":"4.0","c":202,"y":5.53},{"s":"4.0","c":207,"y":5.50},{"s":"4.0","c":212,"y":5.11},{"s":"4.0","c":217,"y":5.16},{"s":"4.0","c":222,"y":4.84},{"s":"4.0","c":227,"y":4.95},{"s":"4.0","c":232,"y":4.75},{"s":"4.0","c":237,"y":4.92},{"s":"4.0","c":242,"y":4.69},{"s":"4.0","c":247,"y":4.78},{"s":"4.0","c":252,"y":4.55},{"s":"4.0","c":257,"y":4.75},{"s":"4.0","c":262,"y":4.52},{"s":"4.0","c":267,"y":4.66},{"s":"4.0","c":272,"y":4.38},{"s":"4.0","c":277,"y":4.54},{"s":"4.0","c":282,"y":4.40},{"s":"4.0","c":287,"y":4.62},{"s":"4.0","c":292,"y":4.43},{"s":"4.0","c":297,"y":4.54},{"s":"4.0","c":302,"y":4.34},{"s":"4.0","c":307,"y":4.57},{"s":"4.0","c":312,"y":4.39},{"s":"4.0","c":317,"y":4.60},{"s":"4.0","c":322,"y":4.39},{"s":"4.0","c":327,"y":4.62},{"s":"4.0","c":332,"y":4.58},{"s":"4.0","c":337,"y":4.95},{"s":"4.0","c":342,"y":4.91},{"s":"4.0","c":347,"y":5.20},{"s":"4.0","c":352,"y":5.20},{"s":"4.0","c":357,"y":5.62},{"s":"4.0","c":362,"y":5.61},{"s":"4.0","c":367,"y":5.93},{"s":"4.0","c":372,"y":5.83},{"s":"4.0","c":377,"y":6.11},{"s":"4.0","c":382,"y":6.06},{"s":"4.0","c":387,"y":6.35},{"s":"4.0","c":392,"y":6.22},{"s":"4.0","c":397,"y":6.37},{"s":"4.0","c":402,"y":6.20},{"s":"4.0","c":407,"y":6.46},{"s":"4.0","c":412,"y":6.26},{"s":"4.0","c":417,"y":6.39},{"s":"4.0","c":422,"y":6.11},{"s":"4.0","c":427,"y":6.24},{"s":"4.0","c":432,"y":6.03},{"s":"4.0","c":437,"y":6.12},{"s":"4.0","c":442,"y":5.80},{"s":"4.0","c":447,"y":5.76},{"s":"4.0","c":452,"y":5.39},{"s":"4.0","c":457,"y":5.44},{"s":"4.0","c":462,"y":5.05},{"s":"4.0","c":467,"y":4.95}
],
"rnd": [
{"c":132,"y":10.5},{"c":135,"y":10.1},{"c":138,"y":10.3},{"c":141,"y":9.95},{"c":144,"y":10.05},{"c":147,"y":9.7},{"c":150,"y":9.85},{"c":153,"y":9.55},{"c":156,"y":9.7},{"c":159,"y":9.4},{"c":162,"y":9.6},{"c":165,"y":9.3},{"c":168,"y":9.45},{"c":171,"y":9.2},{"c":174,"y":9.35},{"c":177,"y":9.05},{"c":180,"y":9.25},{"c":183,"y":8.95},{"c":186,"y":9.1},{"c":189,"y":8.85},{"c":192,"y":9.05},{"c":195,"y":8.7},{"c":198,"y":8.6},{"c":201,"y":8.1},{"c":204,"y":7.6},{"c":207,"y":7.95},{"c":210,"y":7.5},{"c":213,"y":7.8},{"c":216,"y":7.35},{"c":219,"y":7.65},{"c":222,"y":7.3},{"c":225,"y":7.55},{"c":228,"y":7.25},{"c":231,"y":7.5},{"c":234,"y":7.15},{"c":237,"y":7.4},{"c":240,"y":7.1},{"c":243,"y":7.35},{"c":246,"y":7.05},{"c":249,"y":7.45},{"c":252,"y":7.0},{"c":255,"y":7.3},{"c":258,"y":6.85},{"c":261,"y":7.2},{"c":264,"y":7.0},{"c":267,"y":7.25},{"c":270,"y":6.9},{"c":273,"y":7.15},{"c":276,"y":6.95},{"c":279,"y":7.1},{"c":282,"y":6.75},{"c":285,"y":7.05},{"c":288,"y":6.85},{"c":291,"y":7.0},{"c":294,"y":6.7},{"c":297,"y":7.0},{"c":300,"y":6.8},{"c":303,"y":6.95},{"c":306,"y":6.75},{"c":309,"y":7.0},{"c":312,"y":6.8},{"c":315,"y":6.95},{"c":318,"y":6.7},{"c":321,"y":7.0},{"c":324,"y":6.8},{"c":327,"y":6.95},{"c":330,"y":6.75},{"c":333,"y":6.9},{"c":336,"y":6.8},{"c":339,"y":7.0},{"c":342,"y":6.75},{"c":345,"y":6.9},{"c":348,"y":6.7},{"c":351,"y":6.95},{"c":354,"y":6.75},{"c":357,"y":6.9},{"c":360,"y":6.7},{"c":363,"y":6.95},{"c":366,"y":6.75},{"c":369,"y":6.85},{"c":372,"y":6.7},{"c":375,"y":6.9},{"c":378,"y":6.7},{"c":381,"y":6.85},{"c":384,"y":6.65},{"c":387,"y":6.9},{"c":390,"y":6.7},{"c":393,"y":6.85},{"c":396,"y":6.6},{"c":399,"y":6.85},{"c":402,"y":6.7},{"c":405,"y":6.8},{"c":408,"y":6.6},{"c":411,"y":6.85},{"c":414,"y":6.65},{"c":417,"y":6.8},{"c":420,"y":6.6},{"c":423,"y":6.85},{"c":426,"y":6.65},{"c":429,"y":6.8},{"c":432,"y":6.55},{"c":435,"y":6.8},{"c":438,"y":6.6},{"c":441,"y":6.75},{"c":444,"y":6.5},{"c":447,"y":6.8},{"c":450,"y":6.55},{"c":453,"y":6.75},{"c":456,"y":6.4},{"c":459,"y":6.7},{"c":462,"y":6.5},{"c":465,"y":6.8},{"c":468,"y":6.3},{"c":471,"y":6.7},{"c":474,"y":6.4},{"c":476,"y":6.2},{"c":478,"y":5.5},{"c":479,"y":4.6},{"c":480,"y":3.8},{"c":481,"y":3.0},{"c":482,"y":2.1},{"c":483,"y":1.3},{"c":484,"y":0.8},{"c":486,"y":0.4},{"c":488,"y":0.2},{"c":491,"y":0.1},{"c":495,"y":0.06},{"c":500,"y":0.05}
],
"vir": [
{"c":100,"y":1.28},{"c":104,"y":1.20},{"c":108,"y":1.24},{"c":112,"y":1.13},{"c":116,"y":1.16},{"c":120,"y":1.06},{"c":124,"y":1.10},{"c":128,"y":0.98},{"c":132,"y":1.00},{"c":136,"y":0.90},{"c":140,"y":0.95},{"c":144,"y":0.86},{"c":148,"y":0.87},{"c":152,"y":0.80},{"c":156,"y":0.84},{"c":160,"y":0.74},{"c":164,"y":0.79},{"c":168,"y":0.70},{"c":172,"y":0.74},{"c":176,"y":0.66},{"c":180,"y":0.71},{"c":184,"y":0.62},{"c":188,"y":0.66},{"c":192,"y":0.72},{"c":196,"y":0.60},{"c":200,"y":0.58},{"c":204,"y":0.54},{"c":208,"y":0.57},{"c":212,"y":0.50},{"c":216,"y":0.53},{"c":220,"y":0.46},{"c":224,"y":0.49},{"c":228,"y":0.43},{"c":232,"y":0.47},{"c":236,"y":0.41},{"c":240,"y":0.44},{"c":244,"y":0.39},{"c":248,"y":0.42},{"c":252,"y":0.37},{"c":256,"y":0.40},{"c":260,"y":0.35},{"c":264,"y":0.38},{"c":268,"y":0.33},{"c":272,"y":0.36},{"c":276,"y":0.31},{"c":280,"y":0.35},{"c":284,"y":0.30},{"c":288,"y":0.33},{"c":292,"y":0.29},{"c":296,"y":0.32},{"c":300,"y":0.27},{"c":304,"y":0.31},{"c":308,"y":0.27},{"c":312,"y":0.30},{"c":316,"y":0.25},{"c":320,"y":0.29},{"c":324,"y":0.25},{"c":328,"y":0.28},{"c":332,"y":0.23},{"c":336,"y":0.27},{"c":340,"y":0.23},{"c":344,"y":0.26},{"c":348,"y":0.21},{"c":352,"y":0.25},{"c":356,"y":0.21},{"c":360,"y":0.24},{"c":364,"y":0.20},{"c":368,"y":0.23},{"c":372,"y":0.19},{"c":376,"y":0.22},{"c":380,"y":0.18},{"c":384,"y":0.21},{"c":388,"y":0.17},{"c":392,"y":0.21},{"c":396,"y":0.16},{"c":400,"y":0.20},{"c":404,"y":0.16},{"c":408,"y":0.19},{"c":412,"y":0.15},{"c":416,"y":0.18},{"c":420,"y":0.14},{"c":424,"y":0.17},{"c":428,"y":0.14},{"c":432,"y":0.17},{"c":436,"y":0.13},{"c":440,"y":0.16},{"c":444,"y":0.13},{"c":448,"y":0.16},{"c":452,"y":0.12},{"c":456,"y":0.15},{"c":460,"y":0.12},{"c":464,"y":0.14},{"c":468,"y":0.16},{"c":472,"y":0.24},{"c":475,"y":0.33},{"c":478,"y":0.37},{"c":481,"y":0.28},{"c":484,"y":0.12},{"c":488,"y":0.04},{"c":495,"y":0.03},{"c":520,"y":0.03},{"c":560,"y":0.02},{"c":600,"y":0.02}
],
"one": [{}]
},
"layer": [
{
"data": {"name": "vir"},
"mark": {"type": "line", "color": "black", "strokeWidth": 1},
"encoding": {
"x": {"field": "c", "type": "quantitative", "scale": {"domain": [100, 600], "nice": false, "zero": false},
 "axis": {"values": [100,150,200,250,300,350,400,450,500,550,600], "labelExpr": "datum.value % 100 === 0 ? datum.label : ''",
  "tickSize": {"condition": {"test": "datum.value % 100 === 0", "value": -7}, "value": -4},
  "tickColor": "black", "domainColor": "black", "grid": false, "labelFontSize": 18, "labelColor": "black", "labelFlush": false, "labelOverlap": false, "labelPadding": 20,
  "title": "Channel Number", "titleFontSize": 21, "titleFontWeight": "normal", "titleColor": "black", "titlePadding": 2}},
"y": {"field": "y", "type": "quantitative", "scale": {"domain": [0, 10], "nice": false},
 "axis": {"values": [0,1,2,3,4,5,6,7,8,9,10], "labelExpr": "datum.value % 2 === 0 ? datum.label : ''",
  "tickSize": {"condition": {"test": "datum.value % 2 === 0", "value": -7}, "value": -4},
  "tickColor": "black", "domainColor": "black", "grid": false, "labelFontSize": 18, "labelColor": "black", "labelFlush": false, "labelOverlap": false, "labelPadding": 18,
  "title": "Yield (arbitrary units)", "titleFontSize": 21, "titleFontWeight": "normal", "titleColor": "black", "titlePadding": 2}},
"order": {"field": "c"}
}
},
{
"data": {"name": "rnd"},
"mark": {"type": "line", "color": "black", "strokeWidth": 1, "clip": true},
"encoding": {
"x": {"field": "c", "type": "quantitative"},
"y": {"field": "y", "type": "quantitative"},
"order": {"field": "c"}
}
},
{
"data": {"name": "pts"},
"mark": {"type": "point", "filled": true, "strokeWidth": 0.8, "size": 30, "opacity": 1},
"encoding": {
"x": {"field": "c", "type": "quantitative"},
"y": {"field": "y", "type": "quantitative"},
"shape": {"field": "s", "type": "nominal", "sort": null, "title": "ions/nm²",
 "scale": {"domain": ["1.0","1.5","2.0","3.0","4.0","10.0"], "range": ["triangle-up","triangle-up","triangle-down","triangle-down","diamond","diamond"]},
 "legend": {"title": "ions/nm²", "orient": "none", "legendX": 349, "legendY": 108, "titleFontSize": 17, "titleFontWeight": "normal", "titleColor": "black", "labelFontSize": 17, "labelColor": "black", "symbolSize": 30, "symbolStrokeWidth": 1, "rowPadding": 1.6, "labelOffset": 12, "symbolOffset": 5, "titlePadding": 0, "padding": 0}},
"fill": {"field": "s", "type": "nominal", "sort": null, "title": "ions/nm²",
 "scale": {"domain": ["1.0","1.5","2.0","3.0","4.0","10.0"], "range": ["black","white","black","white","black","white"]}},
"stroke": {"field": "s", "type": "nominal", "sort": null, "title": "ions/nm²",
 "scale": {"domain": ["1.0","1.5","2.0","3.0","4.0","10.0"], "range": ["black","black","black","black","black","black"]}}
}
},
{"data": {"name": "one"}, "mark": {"type": "rule", "color": "black", "strokeWidth": 1}, "encoding": {"x": {"datum": 515.5}, "x2": {"datum": 593}, "y": {"datum": 6.06}}},
{"data": {"name": "one"}, "mark": {"type": "text", "fontSize": 20, "align": "left", "baseline": "alphabetic", "color": "black"}, "encoding": {"x": {"datum": 253}, "y": {"datum": 9.1}, "text": {"value": "β-SiC\u00a0\u00a0\u00a0[011]"}}},
{"data": {"name": "one"}, "mark": {"type": "text", "fontSize": 18, "align": "left", "baseline": "alphabetic", "color": "black"}, "encoding": {"x": {"datum": 465}, "y": {"datum": 9.1}, "text": {"value": "360 keV Ar"}}},
{"data": {"name": "one"}, "mark": {"type": "text", "fontSize": 12, "align": "left", "baseline": "alphabetic", "color": "black"}, "encoding": {"x": {"datum": 572}, "y": {"datum": 9.35}, "text": {"value": "2+"}}},
{"data": {"name": "one"}, "mark": {"type": "text", "fontSize": 18.5, "align": "left", "baseline": "alphabetic", "color": "black"}, "encoding": {"x": {"datum": 500}, "y": {"datum": 8.15}, "text": {"value": "310 K"}}},
{"data": {"name": "one"}, "mark": {"type": "text", "fontSize": 17, "align": "center", "baseline": "alphabetic", "color": "black"}, "encoding": {"x": {"datum": 203}, "y": {"datum": 9.33}, "text": {"value": "C"}}},
{"data": {"name": "one"}, "mark": {"type": "text", "fontSize": 16.5, "align": "left", "baseline": "alphabetic", "color": "black"}, "encoding": {"x": {"datum": 254}, "y": {"datum": 7.9}, "text": {"value": "Random"}}},
{"data": {"name": "one"}, "mark": {"type": "text", "fontSize": 17, "align": "center", "baseline": "alphabetic", "color": "black"}, "encoding": {"x": {"datum": 476}, "y": {"datum": 7.68}, "text": {"value": "Si"}}},
{"data": {"name": "one"}, "mark": {"type": "text", "fontSize": 16.5, "align": "left", "baseline": "alphabetic", "color": "black"}, "encoding": {"x": {"datum": 132}, "y": {"datum": 1.55}, "text": {"value": "Virgin"}}},
{"data": {"name": "one"}, "mark": {"type": "rule", "color": "black", "strokeWidth": 1}, "encoding": {"x": {"datum": 203.6}, "y": {"datum": 9.25}, "y2": {"datum": 8.38}}},
{"data": {"name": "one"}, "mark": {"type": "rule", "color": "black", "strokeWidth": 1}, "encoding": {"x": {"datum": 476}, "y": {"datum": 7.62}, "y2": {"datum": 6.73}}},
{"data": {"name": "one"}, "mark": {"type": "rule", "color": "black", "strokeWidth": 1}, "encoding": {"x": {"datum": 285.7}, "y": {"datum": 7.84}, "x2": {"datum": 265.5}, "y2": {"datum": 7.37}}},
{"data": {"name": "one"}, "mark": {"type": "rule", "color": "black", "strokeWidth": 1}, "encoding": {"x": {"datum": 150}, "y": {"datum": 1.4}, "x2": {"datum": 131}, "y2": {"datum": 0.92}}},
{"data": {"name": "one"}, "mark": {"type": "point", "shape": "M-0.35,-1L0,0L0.35,-1", "filled": false, "stroke": "black", "strokeWidth": 1, "size": 400, "opacity": 1}, "encoding": {"x": {"datum": 203.6}, "y": {"datum": 8.38}}},
{"data": {"name": "one"}, "mark": {"type": "point", "shape": "M-0.35,-1L0,0L0.35,-1", "filled": false, "stroke": "black", "strokeWidth": 1, "size": 400, "opacity": 1}, "encoding": {"x": {"datum": 476}, "y": {"datum": 6.73}}},
{"data": {"name": "one"}, "mark": {"type": "point", "shape": "M-0.35,-1L0,0L0.35,-1", "filled": false, "stroke": "black", "strokeWidth": 1, "size": 300, "opacity": 1, "angle": 49}, "encoding": {"x": {"datum": 265.5}, "y": {"datum": 7.37}}},
{"data": {"name": "one"}, "mark": {"type": "point", "shape": "M-0.35,-1L0,0L0.35,-1", "filled": false, "stroke": "black", "strokeWidth": 1, "size": 300, "opacity": 1, "angle": 47}, "encoding": {"x": {"datum": 131}, "y": {"datum": 0.92}}}
]
}
